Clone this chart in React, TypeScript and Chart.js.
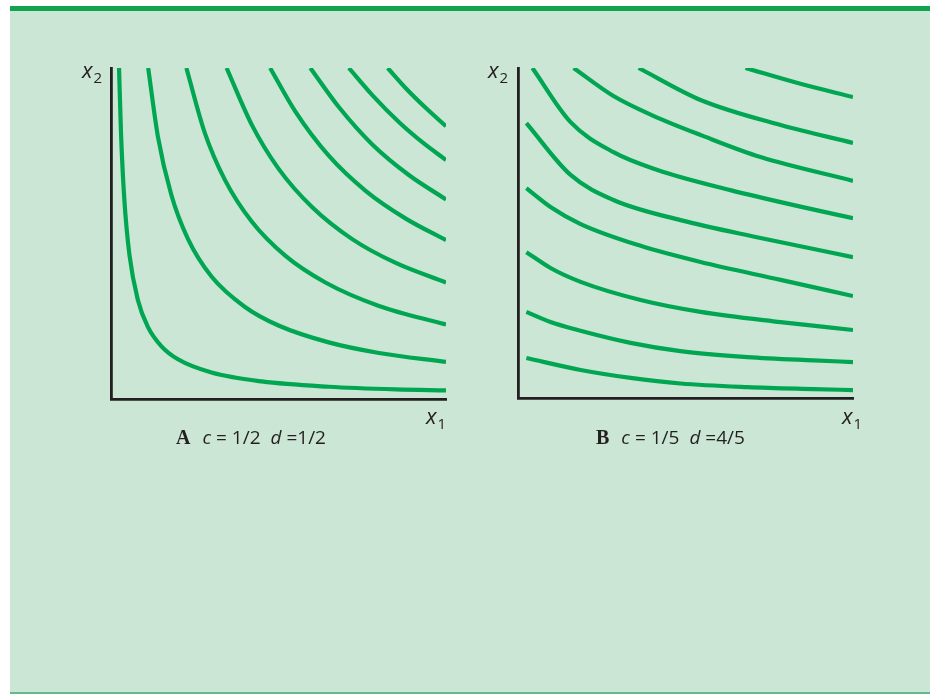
import { useEffect, useRef } from "react";
import { Chart, registerables } from "chart.js";

Chart.register(...registerables);

// Indifference curves, each a list of [x1, x2] points on a 0–10 scale.
// Panel A: c = 1/2, d = 1/2
const curveA1 = [[0.24, 10], [0.3, 8], [0.4, 6], [0.55, 4.36], [0.8, 3], [1.1, 2.18], [1.5, 1.6], [2, 1.2], [3, 0.8], [4.5, 0.53], [6.5, 0.37], [8.5, 0.29], [10, 0.26]];
const curveA2 = [[1.11, 10], [1.4, 7.93], [1.8, 6.17], [2.3, 4.83], [3, 3.7], [4, 2.78], [5, 2.22], [6.5, 1.71], [8, 1.39], [10, 1.12]];
const curveA3 = [[2.25, 10], [2.8, 8.04], [3.4, 6.62], [4.2, 5.36], [5.2, 4.33], [6.4, 3.52], [8, 2.81], [10, 2.25]];
const curveA4 = [[3.45, 10], [4.2, 8.29], [5, 6.96], [6, 5.8], [7.2, 4.83], [8.5, 4.11], [10, 3.52]];
const curveA5 = [[4.75, 10], [5.5, 8.69], [6.5, 7.35], [7.6, 6.29], [8.8, 5.45], [10, 4.8]];
const curveA6 = [[5.95, 10], [6.8, 8.82], [7.8, 7.69], [8.9, 6.76], [10, 6.03]];
const curveA7 = [[7.1, 10], [7.8, 9.18], [8.6, 8.36], [9.3, 7.75], [10, 7.22]];
const curveA8 = [[8.26, 10], [8.8, 9.39], [9.4, 8.79], [10, 8.24]];

// Panel B: c = 1/5, d = 4/5
const curveB1 = [[0.25, 1.21], [1.87, 0.85], [3.36, 0.61], [4.85, 0.44], [6.85, 0.33], [8.82, 0.27], [10, 0.24]];
const curveB2 = [[0.25, 2.61], [0.97, 2.3], [1.78, 2.06], [3.36, 1.67], [4.85, 1.42], [6.85, 1.24], [8.82, 1.14], [10, 1.09]];
const curveB3 = [[0.25, 4.42], [0.97, 3.94], [1.87, 3.52], [3.66, 2.97], [5.45, 2.61], [7.84, 2.3], [10, 2.06]];
const curveB4 = [[0.25, 6.36], [0.97, 5.79], [1.87, 5.27], [3.66, 4.61], [5.45, 4.12], [7.84, 3.58], [10, 3.09]];
const curveB5 = [[0.25, 8.33], [1.57, 6.76], [2.85, 6.0], [4.85, 5.39], [7.24, 4.85], [10, 4.27]];
const curveB6 = [[0.43, 10], [1.57, 8.36], [2.85, 7.45], [4.16, 6.91], [6.34, 6.3], [8.43, 5.8], [10, 5.45]];
const curveB7 = [[1.66, 10], [2.85, 9.15], [4.04, 8.55], [5.5, 7.95], [7.24, 7.3], [10, 6.58]];
const curveB8 = [[3.6, 10], [5.45, 9.03], [7.84, 8.27], [10, 7.73]];
const curveB9 = [[6.79, 10], [8.43, 9.52], [10, 9.12]];

const panelACurves = [curveA1, curveA2, curveA3, curveA4, curveA5, curveA6, curveA7, curveA8];
const panelBCurves = [curveB1, curveB2, curveB3, curveB4, curveB5, curveB6, curveB7, curveB8, curveB9];

const AXIS_MIN = 0;
const AXIS_MAX = 10;

const CURVE_COLOR = "#00a651";
const AXIS_COLOR = "#231f20";
const PAD = 12;

function CurvePanel({ curves, left, top, width, height }: { curves: number[][][]; left: number; top: number; width: number; height: number }) {
  const ref = useRef<HTMLCanvasElement | null>(null);
  useEffect(() => {
    if (!ref.current) return;
    const chart = new Chart(ref.current, {
      type: "line",
      data: {
        datasets: curves.map((c) => ({
          data: c.map(([x, y]) => ({ x, y })),
          borderColor: CURVE_COLOR,
          borderWidth: 4.2,
          pointRadius: 0,
          fill: false,
          cubicInterpolationMode: "monotone" as const,
          clip: 0,
        })),
      },
      options: {
        animation: false,
        responsive: false,
        maintainAspectRatio: false,
        layout: { padding: PAD },
        plugins: { legend: { display: false }, tooltip: { enabled: false } },
        events: [],
        scales: {
          x: {
            type: "linear",
            min: AXIS_MIN,
            max: AXIS_MAX,
            grid: { display: false, drawTicks: false },
            ticks: { display: false },
            border: { display: true, color: AXIS_COLOR, width: 2.8 },
          },
          y: {
            type: "linear",
            min: AXIS_MIN,
            max: AXIS_MAX,
            grid: { display: false, drawTicks: false },
            ticks: { display: false },
            border: { display: true, color: AXIS_COLOR, width: 2.8 },
          },
        },
      },
    });
    return () => chart.destroy();
  }, [curves]);
  return (
    <canvas
      ref={ref}
      width={width}
      height={height}
      style={{ position: "absolute", left, top, width, height }}
    />
  );
}

const sans = "'Open Sans', 'DejaVu Sans', sans-serif";
const serif = "'Liberation Serif', 'DejaVu Serif', serif";

function AxisName({ left, top, sub }: { left: number; top: number; sub: string }) {
  return (
    <div style={{ position: "absolute", left, top, fontFamily: sans, fontSize: 22, lineHeight: "22px", color: "#231f20", whiteSpace: "nowrap" }}>
      <span style={{ fontStyle: "italic" }}>x</span>
      <span style={{ fontSize: 15, position: "relative", top: 5, marginLeft: 1 }}>{sub}</span>
    </div>
  );
}

function Caption({ left, top, letter, c, d }: { left: number; top: number; letter: string; c: string; d: string }) {
  return (
    <div style={{ position: "absolute", left, top, fontFamily: sans, fontSize: 19, lineHeight: "22px", color: "#231f20", whiteSpace: "pre" }}>
      <span style={{ fontFamily: serif, fontWeight: "bold", fontSize: 20 }}>{letter}</span>
      <span style={{ fontStyle: "italic", marginLeft: 12 }}>c</span>
      {" = " + c}
      <span style={{ fontStyle: "italic", marginLeft: 10 }}>d</span>
      {" =" + d}
    </div>
  );
}

export default function App() {
  return (
    <div style={{ position: "fixed", left: 0, top: 0, width: 930, height: 694, background: "#ffffff", overflow: "hidden" }}>
      <div
        style={{
          position: "absolute",
          left: 10,
          top: 6,
          width: 920,
          height: 688,
          boxSizing: "border-box",
          background: "#cbe6d5",
          borderTop: "5px solid #12a350",
          borderBottom: "2px solid #62b98a",
        }}
      />
      <CurvePanel curves={panelACurves} left={111 - PAD} top={68 - PAD} width={335 + 2 * PAD} height={331 + 2 * PAD} />
      <CurvePanel curves={panelBCurves} left={518 - PAD} top={68 - PAD} width={335 + 2 * PAD} height={330 + 2 * PAD} />
      <AxisName left={82} top={58} sub="2" />
      <AxisName left={488} top={58} sub="2" />
      <AxisName left={426} top={404} sub="1" />
      <AxisName left={842} top={404} sub="1" />
      <Caption left={176} top={426} letter="A" c="1/2" d="1/2" />
      <Caption left={596} top={426} letter="B" c="1/5" d="4/5" />
    </div>
  );
}
